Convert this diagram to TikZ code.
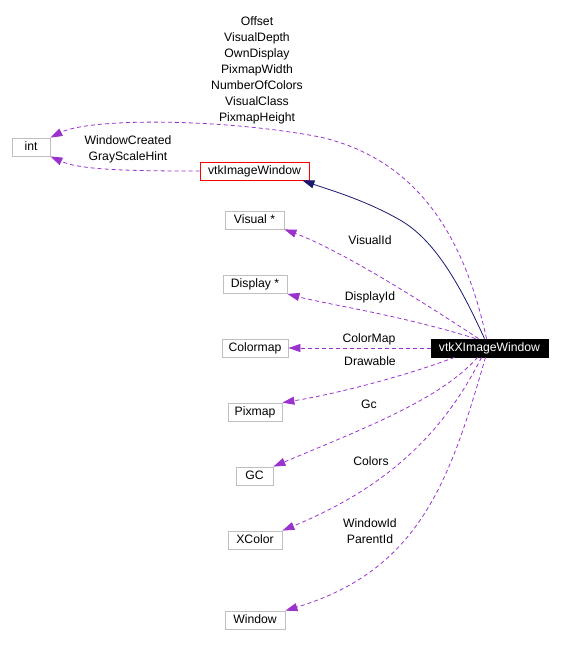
\documentclass[tikz,border=0pt]{standalone}
\usepackage{fontspec}
\setmainfont{Liberation Sans}
\usetikzlibrary{arrows.meta}
\definecolor{usepurple}{HTML}{9A32CD}
\definecolor{inhnavy}{HTML}{191970}
\definecolor{boxgrey}{HTML}{BFBFBF}

\begin{document}
\begin{tikzpicture}[x=1pt, y=-1pt, font=\fontsize{12.2}{16}\selectfont,
    cls/.style = {draw=boxgrey, line width=0.8pt, inner sep=0pt, minimum height=18, text height=9, text depth=2.5},
    usage/.style = {draw=usepurple, dash pattern=on 4pt off 3pt, line width=0.8pt, -{Triangle[length=12pt,width=8pt]}},
    inh/.style = {draw=inhnavy, line width=0.8pt, -{Triangle[length=12pt,width=8pt]}},
    lbl/.style = {align=center, inner sep=0pt}]

            \useasboundingbox (0,0) rectangle (562,646);

            % Nodes
            \node[cls, minimum width=38] (Int) at (31,147) {int};
            \node[cls, draw=red, minimum width=109] (IW) at (254.5,171) {vtkImageWindow};
            \node[cls, minimum width=59] (Vis) at (254.5,220) {Visual *};
            \node[cls, minimum width=64] (Disp) at (255,284.5) {Display *};
            \node[cls, minimum width=66] (Cmap) at (255,348) {Colormap};
            \node[cls, draw=black, fill=black, text=white, minimum width=117] (XIW) at (489.5,348) {vtkXImageWindow};
            \node[cls, minimum width=54] (Pix) at (255,412) {Pixmap};
            \node[cls, minimum width=37] (GC) at (254.5,476) {GC};
            \node[cls, minimum width=54] (XCol) at (255,540) {XColor};
            \node[cls, minimum width=60] (Win) at (255,620) {Window};

            % Labels
            \node[lbl] (LInt) at (257,70) {Offset\\VisualDepth\\OwnDisplay\\PixmapWidth\\NumberOfColors\\VisualClass\\PixmapHeight};
            \node[lbl] (LIntB) at (128,149) {WindowCreated\\GrayScaleHint};
            \node[lbl] (LVis) at (370,240) {VisualId};
            \node[lbl] (LDisp) at (370,297) {DisplayId};
            \node[lbl] (LCmap) at (369,339) {ColorMap};
            \node[lbl] (LPix) at (370,361) {Drawable};
            \node[lbl] (LGC) at (369,404) {Gc};
            \node[lbl] (LXCol) at (371,461) {Colors};
            \node[lbl] (LWin) at (370,531) {WindowId\\ParentId};

            % Edges
            \draw[inh] ([xshift=-5pt]XIW.north) .. controls (460,285) and (435,240) .. (400,220)
                .. controls (365,200) and (330,190) .. ([xshift=-7pt]IW.south east);
            \draw[usage] ([xshift=-3pt]XIW.north) .. controls (465,240) and (420,160) .. (320,137)
                .. controls (220,118) and (90,118) .. (Int.north east);
            \draw[usage] (IW.west) .. controls (130,171) and (80,170) .. (Int.south east);
            \draw[usage] ([xshift=-11pt]XIW.north) .. controls (420,300) and (340,250) .. (Vis.south east);
            \draw[usage] ([xshift=-14pt]XIW.north) .. controls (400,315) and (330,305) .. (Disp.south east);
            \draw[usage] (XIW.west) -- (Cmap.east);
            \draw[usage] ([xshift=-35pt]XIW.south) .. controls (400,378) and (330,395) .. (Pix.north east);
            \draw[usage] ([xshift=-12pt]XIW.south) .. controls (440,400) and (360,430) .. (GC.north east);
            \draw[usage] ([xshift=-8pt]XIW.south) .. controls (440,440) and (380,490) .. (XCol.north east);
            \draw[usage] ([xshift=-4pt]XIW.south) .. controls (450,480) and (420,570) .. (Win.north east);
        \end{tikzpicture}
\end{document}
